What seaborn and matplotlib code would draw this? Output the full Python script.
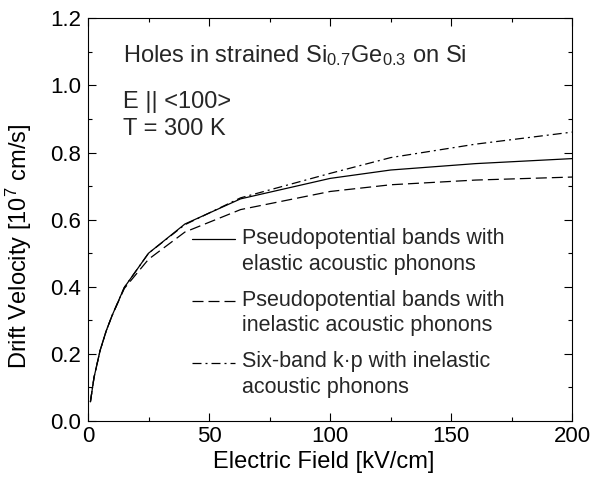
import numpy as np
import pandas as pd
import seaborn as sns
import matplotlib
matplotlib.use("Agg")
import matplotlib.pyplot as plt
from matplotlib.legend_handler import HandlerLine2D
from matplotlib.transforms import Affine2D
from matplotlib.ticker import MultipleLocator

# ---- data ----
field = [1, 2.5, 5, 7.5, 10, 15, 25, 40, 63, 100, 125, 160, 200]
v_elastic = [0.057, 0.13, 0.21, 0.268, 0.315, 0.398, 0.500, 0.587, 0.662, 0.723, 0.748, 0.767, 0.782]
v_inelastic = [0.057, 0.13, 0.21, 0.268, 0.315, 0.395, 0.482, 0.563, 0.630, 0.684, 0.704, 0.718, 0.727]
v_kp = [0.057, 0.13, 0.21, 0.268, 0.315, 0.398, 0.500, 0.585, 0.665, 0.738, 0.785, 0.825, 0.861]

labels = [
    "Pseudopotential bands with\nelastic acoustic phonons",
    "Pseudopotential bands with\ninelastic acoustic phonons",
    "Six-band k\u00b7p with inelastic\nacoustic phonons",
]

df = pd.concat([
    pd.DataFrame({"E": field, "v": v_elastic, "model": labels[0]}),
    pd.DataFrame({"E": field, "v": v_inelastic, "model": labels[1]}),
    pd.DataFrame({"E": field, "v": v_kp, "model": labels[2]}),
])

sns.set_theme(style="ticks")
plt.rcParams["font.family"] = ["Liberation Sans", "DejaVu Sans"]
plt.rcParams["mathtext.fontset"] = "custom"
plt.rcParams["mathtext.rm"] = "Liberation Sans"
plt.rcParams["mathtext.it"] = "Liberation Sans:italic"
plt.rcParams["mathtext.bf"] = "Liberation Sans:bold"

fig = plt.figure(figsize=(5.92, 4.87), dpi=100)
ax = fig.add_axes([0.1486, 0.1355, 0.8184, 0.8269])

lw = 0.9
dash_map = {labels[0]: "", labels[1]: (8.8, 4.0), labels[2]: (7.2, 3.2, 1.6, 3.2)}
sns.lineplot(data=df, x="E", y="v", style="model", dashes=dash_map,
             color="black", linewidth=lw, legend=False, estimator=None,
             sort=False, ax=ax)

ax.set_xlim(0, 200)
ax.set_ylim(0, 1.2)
ax.xaxis.set_major_locator(MultipleLocator(50))
ax.xaxis.set_minor_locator(MultipleLocator(25))
ax.yaxis.set_major_locator(MultipleLocator(0.2))
ax.yaxis.set_minor_locator(MultipleLocator(0.1))
ax.yaxis.set_major_formatter(matplotlib.ticker.FormatStrFormatter("%.1f"))
ax.tick_params(which="both", direction="in", top=True, right=True,
               color="black", width=0.8)
ax.tick_params(which="major", length=5.5)
ax.tick_params(which="minor", length=3.0)
ax.tick_params(axis="x", which="major", labelsize=16, pad=3.5, labelcolor="black")
ax.tick_params(axis="y", which="major", labelsize=16, pad=5, labelcolor="black")
for s in ax.spines.values():
    s.set_visible(True)
    s.set_linewidth(0.8)
    s.set_color("black")

ax.set_xlabel("Electric Field [kV/cm]", fontsize=17, color="black")
ax.set_ylabel(r"Drift Velocity [10$^{7}$ cm/s]", fontsize=17, color="black")
ax.xaxis.set_label_coords(0.486, -0.075)
ax.yaxis.set_label_coords(-0.112, 0.434)

# annotations
ax.text(0.072, 0.8916, r"Holes in strained Si$_{0.7}$Ge$_{0.3}$ on Si",
        transform=ax.transAxes, fontsize=17, va="baseline", ha="left")
ax.text(0.072, 0.777, "E || <100>", transform=ax.transAxes, fontsize=17,
        va="baseline", ha="left")
ax.text(0.072, 0.710, "T = 300 K", transform=ax.transAxes, fontsize=17,
        va="baseline", ha="left")


class TopLineHandler(HandlerLine2D):
    def __init__(self, dy, **kw):
        super().__init__(**kw)
        self.dy = dy

    def create_artists(self, legend, orig_handle, xdescent, ydescent, width,
                       height, fontsize, trans):
        return super().create_artists(legend, orig_handle, xdescent, ydescent,
                                      width, height, fontsize,
                                      Affine2D().translate(0, self.dy) + trans)


lines = ax.get_lines()[:3]
handler = TopLineHandler(9.0)
leg = ax.legend(lines, labels, loc="upper left", bbox_to_anchor=(0.215, 0.48),
                frameon=False, fontsize=15.5, borderpad=0, borderaxespad=0,
                handlelength=2.0, handletextpad=0.32, labelspacing=0.7,
                handler_map={l: handler for l in lines})
for t in leg.get_texts():
    t.set_linespacing(1.3)

fig.savefig("out.png", dpi=100)
